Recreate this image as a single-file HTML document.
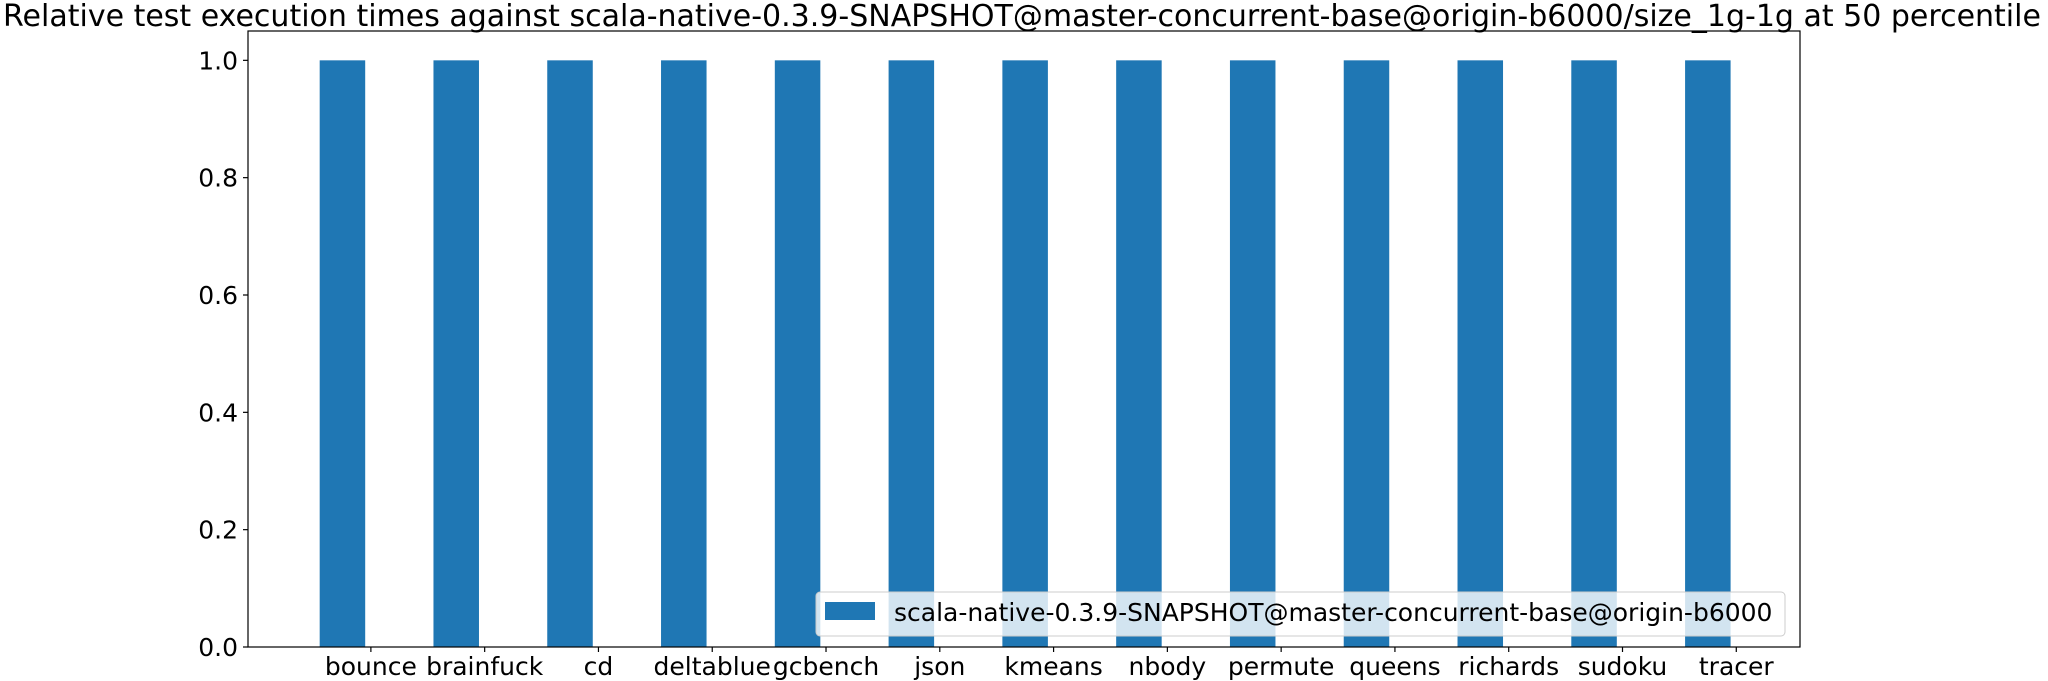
<!DOCTYPE html>
<html><head><meta charset="utf-8"><style>
html,body{margin:0;padding:0;background:#fff}
svg{display:block;font-family:"DejaVu Sans","Liberation Sans",sans-serif}
</style></head><body>
<svg id="chart" width="2048" height="681" viewBox="0 0 2048 681">
<text x="1022" y="26" text-anchor="middle" font-size="30">Relative test execution times against scala-native-0.3.9-SNAPSHOT@master-concurrent-base@origin-b6000/size_1g-1g at 50 percentile</text>
<g id="plot"></g>
</svg>
<script>
const categories=["bounce","brainfuck","cd","deltablue","gcbench","json","kmeans","nbody","permute","queens","richards","sudoku","tracer"];
const values=[1,1,1,1,1,1,1,1,1,1,1,1,1];
const yTicks=[0.0,0.2,0.4,0.6,0.8,1.0];
const seriesName="scala-native-0.3.9-SNAPSHOT@master-concurrent-base@origin-b6000";
const L=248,R=1800,T=31,B=647;
const xMin=-1.08,xMax=12.56,yMin=0,yMax=1.05;
const xs=i=>L+(i-xMin)/(xMax-xMin)*(R-L);
const ys=v=>B-(v-yMin)/(yMax-yMin)*(B-T);
const NS="http://www.w3.org/2000/svg";
const g=document.getElementById('plot');
function mk(t,a,p){const e=document.createElementNS(NS,t);for(const k in a)e.setAttribute(k,a[k]);(p||g).appendChild(e);return e;}
const step=xs(1)-xs(0);
values.forEach((v,i)=>{
 const r=mk('rect',{x:xs(i-0.45),y:ys(v),width:step*0.4,height:ys(0)-ys(v),fill:'#1f77b4'});
 
 
});
mk('rect',{x:L,y:T,width:R-L,height:B-T,fill:'none',stroke:'#000','stroke-width':1.2});
categories.forEach((c,i)=>{
 const x=xs(i);
 mk('line',{x1:x,x2:x,y1:B,y2:B+5,stroke:'#000','stroke-width':1.2});
 const t=mk('text',{x:x,y:675,'text-anchor':'middle','font-size':25});
 t.textContent=c;
 
 
});
yTicks.forEach(v=>{
 const y=ys(v);
 mk('line',{x1:L-5,x2:L,y1:y,y2:y,stroke:'#000','stroke-width':1.2});
 const t=mk('text',{x:L-10,y:y+9,'text-anchor':'end','font-size':25});
 t.textContent=v.toFixed(1);
 
 
});
const lg=mk('g',{});


mk('rect',{x:816,y:592,width:969,height:44,rx:4,fill:'rgba(255,255,255,0.8)',stroke:'#ccc','stroke-width':1},lg);
const sw=mk('rect',{x:825,y:602,width:50,height:18,fill:'#1f77b4'},lg);


const lt=mk('text',{x:894,y:621,'font-size':25},lg);
lt.textContent=seriesName;


</script>
</body></html>
